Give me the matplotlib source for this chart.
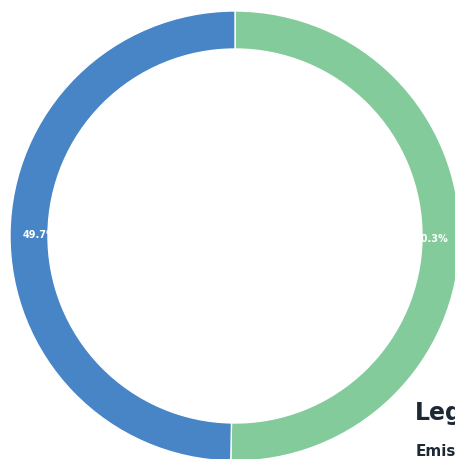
import matplotlib
matplotlib.use("Agg")
import matplotlib.pyplot as plt
from matplotlib.patches import Circle

labels = ["Emissions A", "Emissions B"]
values = [50.3, 49.7]
colors = ["#84cb9b", "#4885c7"]

fig = plt.figure(figsize=(4.55, 4.6), dpi=100)
ax = fig.add_axes([0, 0, 1, 1])

cx, cy, r_out, ring = 235, 223, 225, 38
wedges, texts, autotexts = ax.pie(
    values, colors=colors, startangle=90, counterclock=False,
    center=(cx, cy), radius=r_out, frame=True,
    autopct="%1.1f%%", pctdistance=0.87,
    wedgeprops=dict(width=ring, edgecolor="white", linewidth=1),
    textprops=dict(color="white", fontsize=7, fontweight="bold"),
)
ax.set_xlim(0, 455)
ax.set_ylim(0, 460)
ax.set_aspect("equal")
ax.axis("off")

# inner hole drawn on top, it hides part of the labels like the original
ax.add_patch(Circle((cx, cy), r_out - ring, facecolor="white", edgecolor="none", zorder=10))

fig.text(415 / 455, 1 - 420 / 460, "Legend", fontsize=17, fontweight="bold", color="#1c2833")
fig.text(416 / 455, 1 - 456 / 460, "Emissions", fontsize=11, fontweight="bold", color="#1c2833")

fig.savefig("out.png", dpi=100)
